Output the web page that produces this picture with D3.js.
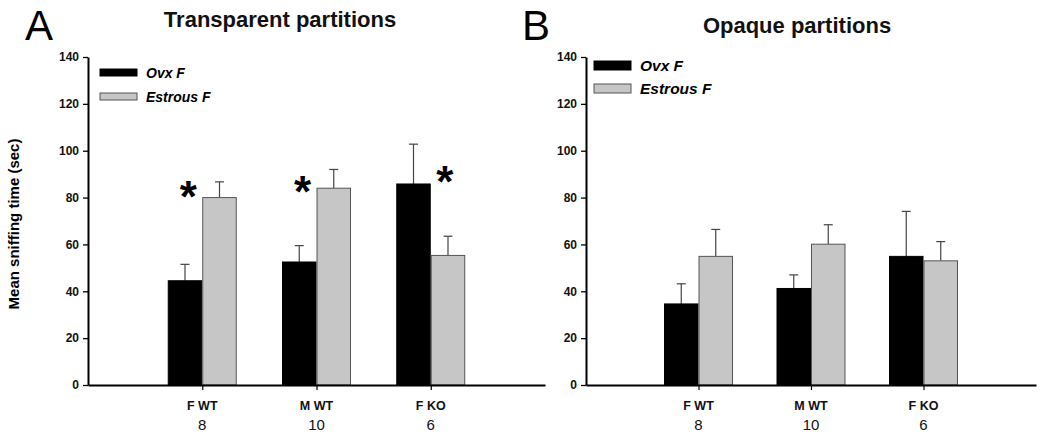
<!DOCTYPE html>
<html><head><meta charset="utf-8">
<script src="https://cdn.jsdelivr.net/npm/d3@7"></script>
<style>body{margin:0;background:#fff}svg{display:block}text{font-family:Arial,"Liberation Sans",sans-serif}</style>
</head><body><svg id="c" width="1050" height="437"></svg>
<script>
const categories = ["F WT", "M WT", "F KO"];
const nLabels = ["8", "10", "6"];
const seriesNames = ["Ovx F", "Estrous F"];
const yTicks = [0, 20, 40, 60, 80, 100, 120, 140];

// Panel A: Transparent partitions
const ovxA = [44.5, 52.5, 85.8];
const ovxErrA = [7.0, 7.0, 17.0];
const estA = [80.0, 84.0, 55.3];
const estErrA = [6.7, 8.0, 8.2];
const starYA = [83, 85, 89];      // asterisk heights (data units)
const starSideA = [-1, -1, 1];    // left of group centre / right

// Panel B: Opaque partitions
const ovxB = [34.6, 41.2, 54.9];
const ovxErrB = [8.6, 5.8, 19.2];
const estB = [54.9, 60.1, 53.0];
const estErrB = [11.5, 8.3, 8.2];

const svg = d3.select("#c");

function panel(cfg) {
  const g = svg.append("g");
  const y = d3.scaleLinear().domain([0, 140]).range([385, 57]);
  const x = d3.scalePoint().domain(categories).range([cfg.x0, cfg.x1]).padding(1);
  const bw = 34.5;

  // letter + title
  g.append("text").attr("x", cfg.letterX).attr("y", 40).attr("font-size", 42)
    .attr("font-family", "Arial").text(cfg.letter);
  g.append("text").attr("x", cfg.titleX).attr("y", cfg.titleY).attr("text-anchor", "middle")
    .attr("font-size", 22).attr("font-weight", "bold").attr("fill", "#111").text(cfg.title);

  // bars
  const series = [
    {vals: cfg.ovx, errs: cfg.ovxErr, fill: "#000", stroke: "#000", off: -1},
    {vals: cfg.est, errs: cfg.estErr, fill: "#c6c6c6", stroke: "#555", off: 0}
  ];
  series.forEach(s => {
    const rows = categories.map((c, i) => ({c, v: s.vals[i], e: s.errs[i]}));
    const eg = g.append("g").attr("stroke", "#444").attr("stroke-width", 1.2);
    rows.forEach(r => {
      const cx = x(r.c) + s.off * bw + bw / 2;
      eg.append("line").attr("x1", cx).attr("x2", cx).attr("y1", y(r.v)).attr("y2", y(r.v + r.e));
      eg.append("line").attr("x1", cx - 4.5).attr("x2", cx + 4.5).attr("y1", y(r.v + r.e)).attr("y2", y(r.v + r.e));
    });
    g.append("g").selectAll("rect").data(rows).join("rect")
      .attr("x", r => x(r.c) + s.off * bw + 0.5)
      .attr("width", bw - 1)
      .attr("y", r => y(r.v))
      .attr("height", r => y(0) - y(r.v))
      .attr("fill", s.fill).attr("stroke", s.stroke).attr("stroke-width", 1);
  });

  // y axis
  const ya = g.append("g").attr("transform", `translate(${cfg.x0},0)`)
    .call(d3.axisLeft(y).tickValues(yTicks).tickSize(5).tickSizeOuter(0).tickPadding(4));
  ya.select(".domain").attr("stroke-width", 2);
  ya.selectAll(".tick line").attr("stroke-width", 1.3);
  ya.selectAll("text").attr("font-size", 12).attr("font-weight", "bold").attr("fill", "#111");

  // x axis
  const xa = g.append("g").attr("transform", `translate(0,${y(0)})`)
    .call(d3.axisBottom(x).tickSize(5).tickSizeOuter(0).tickFormat(""));
  xa.select(".domain").attr("stroke-width", 2);
  xa.selectAll(".tick line").attr("stroke-width", 1.2);
  g.append("g").selectAll("text").data(categories).join("text")
    .attr("x", c => x(c)).attr("y", 410).attr("text-anchor", "middle")
    .attr("font-size", 12.5).attr("font-weight", "bold").attr("fill", "#111").text(c => c);
  g.append("g").selectAll("text").data(categories).join("text")
    .attr("x", c => x(c)).attr("y", 430).attr("text-anchor", "middle")
    .attr("font-size", 15).attr("fill", "#111").text((c, i) => nLabels[i]);

  // stars
  if (cfg.starY) {
    g.append("g").selectAll("text").data(categories).join("text")
      .attr("x", (c, i) => x(c) + cfg.starSide[i] * 14)
      .attr("y", (c, i) => y(cfg.starY[i]) + 21)
      .attr("text-anchor", "middle").attr("font-size", 44).attr("font-weight", "bold")
      .text("*");
  }

  // legend
  const lg = g.append("g");
  seriesNames.forEach((n, i) => {
    lg.append("rect").attr("x", cfg.legX).attr("y", cfg.legY + i * cfg.legStep)
      .attr("width", 37).attr("height", cfg.legH)
      .attr("fill", i === 0 ? "#000" : "#c6c6c6").attr("stroke", i === 0 ? "#000" : "#555");
    lg.append("text").attr("x", cfg.legX + 46).attr("y", cfg.legY + i * cfg.legStep + cfg.legH / 2 + 5)
      .attr("font-size", cfg.legFont).attr("font-weight", "bold").attr("font-style", "italic").text(n);
  });
}

panel({letter: "A", letterX: 25, title: "Transparent partitions", titleX: 280, titleY: 27,
  x0: 88, x1: 545, ovx: ovxA, ovxErr: ovxErrA, est: estA, estErr: estErrA,
  starY: starYA, starSide: starSideA, legX: 100, legY: 69, legStep: 24, legH: 7, legFont: 14});
panel({letter: "B", letterX: 522, title: "Opaque partitions", titleX: 797, titleY: 33,
  x0: 586, x1: 1036, ovx: ovxB, ovxErr: ovxErrB, est: estB, estErr: estErrB,
  legX: 594, legY: 61, legStep: 23, legH: 9, legFont: 15.5});

// y axis title
svg.append("text").attr("transform", "translate(19,224) rotate(-90)")
  .attr("text-anchor", "middle").attr("font-size", 15).attr("font-weight", "bold")
  .text("Mean sniffing time (sec)");
</script></body></html>
